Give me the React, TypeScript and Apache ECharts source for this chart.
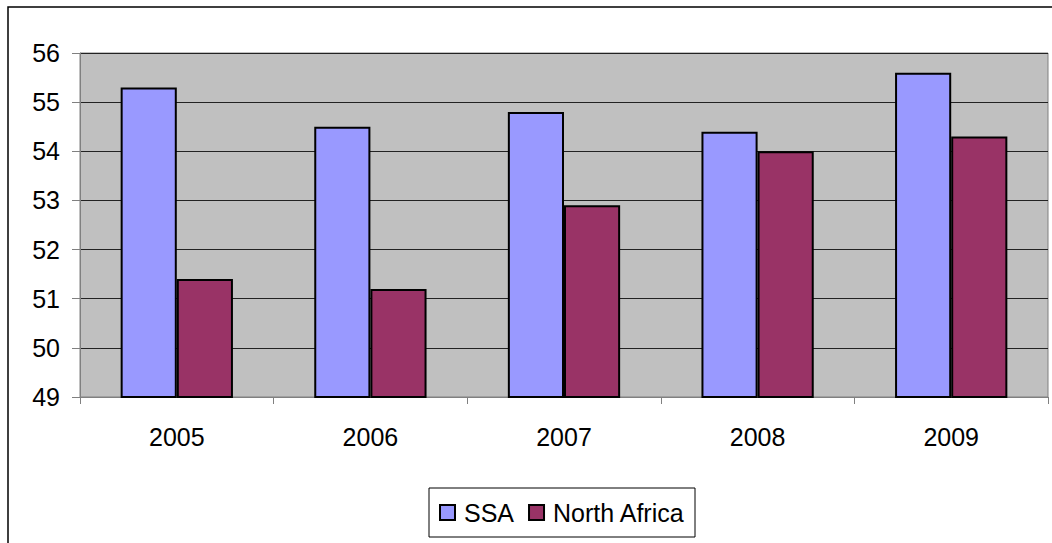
import React, { useEffect, useRef } from "react";
import * as echarts from "echarts";

const categories = ["2005", "2006", "2007", "2008", "2009"];
const ssa = [55.3, 54.5, 54.8, 54.4, 55.6];
const northAfrica = [51.4, 51.2, 52.9, 54.0, 54.3];
const seriesNames = ["SSA", "North Africa"];

export default function App() {
  const ref = useRef<HTMLDivElement>(null);
  useEffect(() => {
    if (!ref.current) return;
    const chart = echarts.init(ref.current, null, { renderer: "svg" });
    const font = "Liberation Sans, Arial, sans-serif";
    chart.setOption({
      animation: false,
      backgroundColor: "#ffffff",
      textStyle: { fontFamily: font },
      graphic: [
        {
          type: "rect",
          shape: { x: 8, y: 7, width: 1060, height: 560 },
          style: { fill: "none", stroke: "#000", lineWidth: 1.5 },
          silent: true,
          z: 100,
        },
      ],
      grid: {
        left: 80,
        top: 53,
        width: 968,
        height: 344,
        show: true,
        backgroundColor: "#C0C0C0",
        borderColor: "#808080",
        borderWidth: 1,
      },
      legend: {
        data: seriesNames,
        left: 429,
        top: 488,
        padding: [12, 10, 12, 10],
        itemGap: 14,
        itemWidth: 15,
        itemHeight: 15,
        icon: "rect",
        borderColor: "#000",
        borderWidth: 1,
        borderRadius: 0,
        textStyle: { fontSize: 25, color: "#000", fontFamily: font, padding: [0, 0, 0, 4] },
        itemStyle: { borderColor: "#000", borderWidth: 2 },
      },
      xAxis: {
        type: "category",
        data: categories,
        axisLine: { lineStyle: { color: "#808080", width: 1 } },
        axisTick: { show: true, length: 7, lineStyle: { color: "#808080" } },
        axisLabel: { fontSize: 25, color: "#000", margin: 27, fontFamily: font },
        splitLine: { show: false },
      },
      yAxis: {
        type: "value",
        min: 49,
        max: 56,
        interval: 1,
        axisLine: { show: true, lineStyle: { color: "#808080", width: 1 } },
        axisTick: { show: true, length: 8, lineStyle: { color: "#808080" } },
        axisLabel: { fontSize: 25, color: "#000", margin: 20, fontFamily: font },
        splitLine: { show: true, lineStyle: { color: "#222", width: 1 } },
      },
      series: [
        {
          name: seriesNames[0],
          type: "bar",
          data: ssa,
          barGap: "0%",
          barCategoryGap: "42%",
          itemStyle: { color: "#9999FF", borderColor: "#000", borderWidth: 2 },
        },
        {
          name: seriesNames[1],
          type: "bar",
          data: northAfrica,
          barGap: "0%",
          barCategoryGap: "42%",
          itemStyle: { color: "#993366", borderColor: "#000", borderWidth: 2 },
        },
      ],
    });
    return () => chart.dispose();
  }, []);
  return (
    <div
      ref={ref}
      style={{ position: "fixed", left: 0, top: 0, width: 1052, height: 543 }}
    />
  );
}
